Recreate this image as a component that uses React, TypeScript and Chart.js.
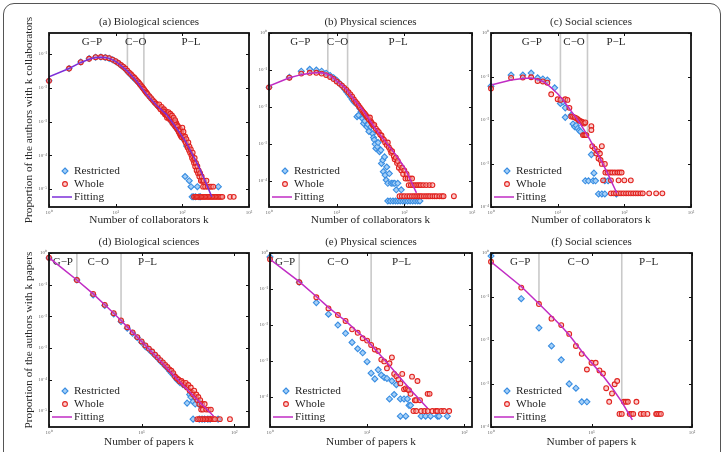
import React, { useEffect, useRef } from 'react';
import { Chart, registerables } from 'chart.js';

Chart.register(...registerables);

type Pt = [number, number];

const FONT = "'Liberation Serif', 'Times New Roman', Times, serif";

// ---------------- DATA ----------------
const TITLES = [
  '(a) Biological sciences', '(b) Physical sciences', '(c) Social sciences',
  '(d) Biological sciences', '(e) Physical sciences', '(f) Social sciences',
];
const X_TITLE_COLLAB = 'Number of collaborators k';
const X_TITLE_PAPERS = 'Number of papers k';
const Y_TITLE_COLLAB = 'Proportion of the authors with k collaborators';
const Y_TITLE_PAPERS = 'Proportion of the authors with k papers';
const REGION_NAMES = ['G\u2212P', 'C\u2212O', 'P\u2212L'];
const LEGEND_NAMES = ['Restricted', 'Whole', 'Fitting'];

// axis ranges (log10 exponents)
const A_X_EXP: Pt = [0, 3];
const A_Y_EXP: Pt = [-5.53, -0.38];
const B_X_EXP: Pt = [0, 3];
const B_Y_EXP: Pt = [-4.7, 0];
const C_X_EXP: Pt = [0, 3];
const C_Y_EXP: Pt = [-4, 0];
const D_X_EXP: Pt = [0, 2.16];
const D_Y_EXP: Pt = [-5.5, 0];
const E_X_EXP: Pt = [0, 2.08];
const E_Y_EXP: Pt = [-4.83, 0];
const F_X_EXP: Pt = [0, 2];
const F_Y_EXP: Pt = [-4, 0];

// region boundaries (k) and region label positions (k)
const A_BOUNDS = [15, 26.5];
const A_REGION_K = [4.4, 20, 135];
const B_BOUNDS = [7.4, 14.5];
const B_REGION_K = [2.9, 10.3, 81];
const C_BOUNDS = [11, 28];
const C_REGION_K = [4.1, 17.6, 75];
const D_BOUNDS = [2, 6];
const D_REGION_K = [1.41, 3.4, 11.6];
const E_BOUNDS = [2, 11];
const E_REGION_K = [1.43, 5.0, 22.6];
const F_BOUNDS = [3, 20];
const F_REGION_K = [1.95, 7.4, 37];

// (a) Biological sciences, collaborators
const A_RESTRICTED: Pt[] = [
  [1, 0.016], [2, 0.037], [3, 0.058], [4, 0.073], [5, 0.080], [6, 0.081], [7, 0.079], [8, 0.074], [9, 0.067], [10, 0.060],
  [11, 0.053], [12, 0.046], [13, 0.041], [14, 0.036], [15, 0.031], [16, 0.027], [17, 0.024], [18, 0.021], [19, 0.019], [20, 0.017],
  [22, 0.014], [24, 0.0114], [26, 0.0093], [28, 0.0077], [30, 0.0064], [33, 0.0051], [36, 0.0042], [40, 0.0033], [44, 0.0027], [48, 0.0023],
  [52, 0.0019], [56, 0.0016], [60, 0.0014], [65, 0.0012], [70, 0.00095], [75, 0.0008], [80, 0.00066], [86, 0.00055], [92, 0.00045], [98, 0.00037],
  [104, 0.0003], [110, 0.0000236], [116, 0.00019], [127, 0.0000177], [135, 0.0000118], [140, 0.0000059], [148, 0.0000059], [158, 0.0000059],
  [168, 0.0000118], [178, 0.0000059], [186, 0.0000059], [347, 0.0000118],
];
const A_WHOLE: Pt[] = [
  [1, 0.016], [2, 0.037], [3, 0.057], [4, 0.072], [5, 0.080], [6, 0.081], [7, 0.079], [8, 0.075], [9, 0.068], [10, 0.061],
  [11, 0.054], [12, 0.047], [13, 0.042], [14, 0.037], [15, 0.032], [16, 0.028], [17, 0.025], [18, 0.022], [19, 0.020], [20, 0.018],
  [21, 0.016], [22, 0.0145], [23, 0.013], [24, 0.0117], [25, 0.0105], [26, 0.0095], [27, 0.0086], [28, 0.0078], [29, 0.0071], [30, 0.0065],
  [32, 0.0056], [34, 0.0049], [36, 0.0043], [38, 0.0038], [40, 0.0034], [42, 0.0031], [44, 0.0028], [46, 0.0026], [48, 0.0024], [50, 0.0022],
  [45, 0.0032], [47, 0.0023], [49, 0.0027], [51, 0.0019], [53, 0.0023], [55, 0.0016], [57, 0.002], [59, 0.0013], [61, 0.0017], [63, 0.0012],
  [65, 0.0015], [67, 0.0011], [69, 0.0013], [71, 0.0009], [73, 0.0011], [75, 0.0008], [77, 0.001], [79, 0.0007], [81, 0.0009], [83, 0.00062],
  [84, 0.00078], [86, 0.00055], [87, 0.0007], [89, 0.00048], [91, 0.00062], [92, 0.00042], [94, 0.0005], [95, 0.00037], [97, 0.00052], [98, 0.00034],
  [52, 0.002], [54, 0.0019], [56, 0.0017], [58, 0.0016], [60, 0.0015], [62, 0.0019], [64, 0.0013], [66, 0.0017], [68, 0.0012], [70, 0.0015],
  [72, 0.001], [74, 0.0013], [76, 0.00092], [78, 0.0011], [80, 0.00078], [82, 0.00066], [85, 0.00072], [88, 0.00058], [90, 0.0005], [93, 0.00055],
  [96, 0.00044], [100, 0.00066], [102, 0.00038], [104, 0.0005], [106, 0.00033], [108, 0.00028], [110, 0.00036], [112, 0.00024], [115, 0.0003], [118, 0.0002],
  [120, 0.00017], [123, 0.00024], [126, 0.00014], [128, 0.00018], [131, 0.00012], [134, 0.00015], [137, 0.0001], [140, 0.000083], [143, 0.00012], [146, 0.000071],
  [150, 0.000059], [153, 0.000083], [156, 0.000047], [160, 0.000059], [164, 0.0000354], [168, 0.0000472], [172, 0.0000295], [176, 0.0000354], [180, 0.0000236], [185, 0.0000295],
  [190, 0.0000177], [195, 0.0000236], [200, 0.0000177], [205, 0.0000118], [210, 0.0000177], [220, 0.0000118], [230, 0.0000177], [240, 0.0000118], [255, 0.0000118], [270, 0.0000118], [290, 0.0000118],
  [150, 0.0000059], [158, 0.0000059], [165, 0.0000059], [172, 0.0000059], [180, 0.0000059], [188, 0.0000059], [196, 0.0000059], [205, 0.0000059],
  [214, 0.0000059], [224, 0.0000059], [235, 0.0000059], [246, 0.0000059], [258, 0.0000059], [270, 0.0000059], [283, 0.0000059], [297, 0.0000059],
  [312, 0.0000059], [328, 0.0000059], [345, 0.0000059], [362, 0.0000059], [380, 0.0000059], [398, 0.0000059], [520, 0.0000059], [590, 0.0000059],
];
const A_FIT: Pt[] = [
  [1, 0.021], [2, 0.037], [3, 0.056], [4, 0.070], [5, 0.078], [6, 0.080], [7, 0.078], [8, 0.074], [10, 0.060], [12, 0.046],
  [15, 0.031], [20, 0.017], [29, 0.0064], [40, 0.0032], [58, 0.0016], [80, 0.00068], [116, 0.00023], [150, 0.000085], [184, 0.000039],
  [230, 0.000014], [277, 0.0000059],
];

// (b) Physical sciences, collaborators
const B_RESTRICTED: Pt[] = [
  [1, 0.034], [2, 0.064], [3, 0.093], [4, 0.105], [5, 0.100], [6, 0.093], [7, 0.082], [8, 0.071], [9, 0.062], [10, 0.053],
  [11, 0.044], [12, 0.037], [13, 0.031], [14, 0.026], [15, 0.022], [16, 0.019], [17, 0.016], [18, 0.014], [19, 0.0126], [20, 0.0055],
  [21, 0.006], [22, 0.0092], [23, 0.0075], [24, 0.0049], [25, 0.0036], [26, 0.0042], [27, 0.0055], [28, 0.0029], [29, 0.0034], [30, 0.0022],
  [32, 0.0029], [34, 0.0019], [35, 0.0015], [36, 0.0013], [37, 0.001], [38, 0.00076], [40, 0.00085], [41, 0.0011], [43, 0.00062], [45, 0.00069],
  [46, 0.0003], [48, 0.00037], [49, 0.00018], [51, 0.00045], [52, 0.000145], [54, 0.000107], [55, 0.00024], [57, 0.000087], [60, 0.00016], [64, 0.000087],
  [68, 0.000087], [72, 0.000087], [76, 0.000058], [80, 0.000087], [90, 0.000058],
  [57, 0.000029], [62, 0.000029], [68, 0.000029], [74, 0.000029], [80, 0.000029], [87, 0.000029], [95, 0.000029], [103, 0.000029],
  [112, 0.000029], [122, 0.000029], [133, 0.000029], [145, 0.000029], [158, 0.000029], [170, 0.000029],
];
const B_WHOLE: Pt[] = [
  [1, 0.034], [2, 0.062], [3, 0.080], [4, 0.084], [5, 0.084], [6, 0.080], [7, 0.073], [8, 0.065], [9, 0.057], [10, 0.049],
  [11, 0.043], [12, 0.038], [13, 0.033], [14, 0.029], [15, 0.025], [16, 0.022], [17, 0.019], [18, 0.016], [19, 0.014], [20, 0.0125],
  [21, 0.011], [22, 0.0098], [23, 0.0088], [24, 0.0079], [25, 0.0071], [26, 0.0066], [27, 0.006], [28, 0.0054], [29, 0.0051], [30, 0.0046],
  [31, 0.0052], [32, 0.0041], [33, 0.0037], [34, 0.0034], [35, 0.0031], [36, 0.0033], [38, 0.0026], [40, 0.0023], [42, 0.0021], [44, 0.0018],
  [46, 0.0017], [48, 0.0014], [50, 0.0013], [52, 0.0011], [55, 0.00095], [57, 0.0011], [59, 0.00082], [62, 0.0007], [64, 0.00058], [66, 0.00064],
  [70, 0.00047], [72, 0.00039], [75, 0.00043], [78, 0.00031], [80, 0.00035], [83, 0.00023], [86, 0.00027], [90, 0.000195], [93, 0.00023], [96, 0.000156],
  [100, 0.000195], [104, 0.000117], [108, 0.000156], [112, 0.000117], [116, 0.000078], [120, 0.000117], [125, 0.000078], [130, 0.000117], [135, 0.000078], [145, 0.000078],
  [155, 0.000078], [165, 0.000078], [175, 0.000078], [190, 0.000078], [210, 0.000078], [235, 0.000078], [260, 0.000078],
  [85, 0.000039], [92, 0.000039], [100, 0.000039], [110, 0.000039], [120, 0.000039], [130, 0.000039], [140, 0.000039], [150, 0.000039],
  [160, 0.000039], [170, 0.000039], [180, 0.000039], [195, 0.000039], [210, 0.000039], [225, 0.000039], [240, 0.000039], [260, 0.000039],
  [280, 0.000039], [300, 0.000039], [330, 0.000039], [360, 0.000039], [380, 0.000039], [540, 0.000039],
];
const B_FIT: Pt[] = [
  [1, 0.037], [2, 0.062], [3, 0.075], [4, 0.082], [5, 0.085], [6, 0.084], [7, 0.079], [8, 0.072], [10, 0.051], [12, 0.039],
  [14, 0.030], [18, 0.016], [25, 0.0078], [36, 0.0029], [50, 0.0013], [72, 0.00056], [100, 0.00024], [151, 0.000048],
];

// (c) Social sciences, collaborators
const C_RESTRICTED: Pt[] = [
  [1, 0.060], [2, 0.108], [3, 0.108], [4, 0.12], [5, 0.093], [6, 0.088], [7, 0.083], [9, 0.055], [11, 0.024], [12, 0.026],
  [13, 0.019], [13, 0.0115], [16, 0.013], [17, 0.0081], [18, 0.007], [19, 0.0075], [20, 0.0064], [21, 0.0058], [22, 0.0054], [32, 0.0016],
  [35, 0.0006], [26, 0.0004], [29, 0.0004], [34, 0.0004], [37, 0.0004], [51, 0.0004], [57, 0.0004],
  [41, 0.0002], [46, 0.0002], [51, 0.0002], [76, 0.0002],
];
const C_WHOLE: Pt[] = [
  [1, 0.053], [2, 0.093], [3, 0.095], [4, 0.096], [5, 0.079], [6, 0.077], [7, 0.072], [8, 0.039], [10, 0.030], [11, 0.029],
  [13, 0.030], [14, 0.029], [15, 0.019], [16, 0.012], [17, 0.0118], [18, 0.0115], [19, 0.011], [20, 0.0104], [21, 0.0098], [22, 0.0094],
  [23, 0.0091], [24, 0.0088], [25, 0.0083], [26, 0.0088], [24, 0.0045], [25, 0.0045], [26, 0.0045], [27, 0.0045], [32, 0.0072], [32, 0.0059],
  [33, 0.0025], [36, 0.0022], [38, 0.0017], [40, 0.0019], [43, 0.0017], [46, 0.0025], [41, 0.0013], [44, 0.0012], [46, 0.00098], [51, 0.00098],
  [52, 0.00062], [56, 0.00062], [61, 0.00062], [66, 0.00062], [72, 0.00062], [79, 0.00062], [85, 0.00062], [91, 0.00062],
  [48, 0.00041], [63, 0.00041], [82, 0.00041], [100, 0.00041], [125, 0.00041],
  [63, 0.000206], [69, 0.000206], [75, 0.000206], [82, 0.000206], [89, 0.000206], [97, 0.000206], [106, 0.000206], [115, 0.000206],
  [125, 0.000206], [136, 0.000206], [148, 0.000206], [160, 0.000206], [175, 0.000206], [189, 0.000206], [236, 0.000206], [300, 0.000206], [372, 0.000206],
];
const C_FIT: Pt[] = [
  [1, 0.064], [2, 0.083], [3, 0.090], [4, 0.092], [5, 0.086], [6, 0.077], [7, 0.066], [8, 0.055], [10, 0.040], [12, 0.029],
  [14, 0.021], [17, 0.014], [20, 0.010], [24, 0.0065], [30, 0.0037], [38, 0.0019], [50, 0.00085], [60, 0.00048], [77, 0.00021],
];

// (d) Biological sciences, papers
const D_RESTRICTED: Pt[] = [
  [1, 0.70], [2, 0.14], [3, 0.047], [4, 0.022], [5, 0.0118], [6, 0.0068], [7, 0.0042], [8, 0.0029], [9, 0.0021], [10, 0.0015],
  [11, 0.0011], [12, 0.0009], [13, 0.00072], [14, 0.00058], [15, 0.00047], [16, 0.00038], [17, 0.00032], [18, 0.00027], [19, 0.00023], [20, 0.00019],
  [21, 0.00016], [22, 0.00014], [23, 0.00012], [24, 0.0001], [25, 0.00009], [26, 0.00008], [28, 0.000068], [30, 0.00006], [31, 0.000018], [33, 0.0000336],
  [34, 0.000028], [36, 0.00002], [38, 0.0000168], [40, 0.0000224], [43, 0.000015], [44, 0.0000168],
  [36, 0.0000056], [42, 0.0000056], [45, 0.0000056], [48, 0.0000056], [52, 0.0000056], [55, 0.0000056], [67, 0.0000056],
];
const D_WHOLE: Pt[] = [
  [1, 0.71], [2, 0.14], [3, 0.051], [4, 0.023], [5, 0.0125], [6, 0.0074], [7, 0.0045], [8, 0.0031], [9, 0.0022], [10, 0.0016],
  [11, 0.0012], [12, 0.00095], [13, 0.00077], [14, 0.00061], [15, 0.0005], [16, 0.00041], [17, 0.00035], [18, 0.00029], [19, 0.00025], [20, 0.00021],
  [21, 0.00019], [22, 0.00016], [23, 0.000125], [24, 0.00011], [25, 0.0001], [26, 0.000087], [27, 0.00009], [28, 0.000078], [29, 0.000067], [30, 0.000078],
  [31, 0.000056], [32, 0.000067], [33, 0.0000448], [34, 0.000056], [35, 0.0000392], [36, 0.0000336], [37, 0.0000448], [38, 0.000028], [39, 0.0000336], [40, 0.0000224],
  [41, 0.000028], [42, 0.0000168], [43, 0.0000224], [44, 0.0000112], [45, 0.0000168], [46, 0.0000112], [48, 0.0000168], [50, 0.0000112], [53, 0.0000112], [56, 0.0000112],
  [40, 0.0000056], [42, 0.0000056], [44, 0.0000056], [46, 0.0000056], [48, 0.0000056], [50, 0.0000056], [52, 0.0000056],
  [54, 0.0000056], [56, 0.0000056], [58, 0.0000056], [60, 0.0000056], [62, 0.0000056], [70, 0.0000056], [90, 0.0000056],
];
const D_FIT: Pt[] = [
  [1, 0.71], [2, 0.14], [3, 0.051], [4, 0.023], [5, 0.0125], [6, 0.0074], [8, 0.0031], [10, 0.0016], [15, 0.00047], [20, 0.00019],
  [30, 0.000054], [40, 0.000023], [50, 0.000012], [60, 0.0000069],
];

// (e) Physical sciences, papers
const E_RESTRICTED: Pt[] = [
  [1, 0.78], [2, 0.154], [3, 0.042], [4, 0.020], [5, 0.010], [6, 0.0059], [7, 0.0033], [8, 0.0022], [9, 0.0017], [10, 0.00096],
  [11, 0.00046], [12, 0.00032], [13, 0.00057], [14, 0.00041], [15, 0.00035], [16, 0.00033], [17, 0.000089], [18, 0.00028], [19, 0.000118], [20, 0.00022],
  [22, 0.000089], [24, 0.000089], [26, 0.000089], [27, 0.000059], [28, 0.000059],
  [22, 0.0000295], [25, 0.0000295], [36, 0.0000295], [40, 0.0000295], [45, 0.0000295], [53, 0.0000295], [55, 0.0000295], [67, 0.0000295],
];
const E_WHOLE: Pt[] = [
  [1, 0.67], [2, 0.154], [3, 0.059], [4, 0.029], [5, 0.019], [6, 0.013], [7, 0.0076], [8, 0.0061], [9, 0.0043], [10, 0.0037],
  [11, 0.0028], [12, 0.0021], [13, 0.0019], [14, 0.0011], [15, 0.00098], [16, 0.00063], [17, 0.00087], [18, 0.00126], [19, 0.00044], [20, 0.00038],
  [21, 0.00031], [22, 0.00024], [23, 0.00044], [24, 0.000164], [25, 0.000174], [26, 0.000164], [27, 0.000156], [28, 0.000123], [29, 0.00037], [31, 0.000082],
  [32, 0.000082], [33, 0.00028], [35, 0.000082], [42, 0.000123], [44, 0.000123],
  [30, 0.000041], [32, 0.000041], [36, 0.000041], [39, 0.000041], [42, 0.000041], [47, 0.000041], [51, 0.000041], [53, 0.000041],
  [58, 0.000041], [62, 0.000041], [70, 0.000041],
];
const E_FIT: Pt[] = [
  [1, 0.67], [2, 0.16], [3, 0.062], [4, 0.031], [5, 0.019], [6, 0.013], [8, 0.0064], [10, 0.0038], [15, 0.0011], [20, 0.00045],
  [30, 0.00013], [42, 0.000049],
];

// (f) Social sciences, papers
const F_RESTRICTED: Pt[] = [
  [1, 0.85], [2, 0.089], [3, 0.019], [4, 0.0073], [5, 0.0035], [6, 0.00098], [7, 0.00078], [8, 0.00038], [9, 0.00038],
];
const F_WHOLE: Pt[] = [
  [1, 0.63], [2, 0.16], [3, 0.067], [4, 0.031], [5, 0.022], [6, 0.0138], [7, 0.0073], [8, 0.0048], [9, 0.0021], [10, 0.003],
  [11, 0.003], [12, 0.002], [13, 0.0017], [14, 0.00078], [15, 0.00038], [16, 0.00059], [17, 0.00096], [18, 0.00114], [19, 0.0002], [20, 0.0002],
  [21, 0.00038], [22, 0.00038], [23, 0.00038], [24, 0.0002], [25, 0.0002], [26, 0.0002], [28, 0.00038], [31, 0.0002], [33, 0.0002], [36, 0.0002],
  [44, 0.0002], [45, 0.0002], [47, 0.0002], [49, 0.0002],
];
const F_FIT: Pt[] = [
  [1, 0.63], [2, 0.17], [3, 0.068], [4, 0.035], [5, 0.021], [6, 0.013], [8, 0.0055], [10, 0.003], [13, 0.0015], [16, 0.0008],
  [20, 0.00038], [25.5, 0.000145],
];

// ---------------- STYLE / LAYOUT ----------------
const FIT_PURPLE = '#7d2fd8';
const FIT_MAGENTA = '#c02cc4';
const BLUE_EDGE = '#3a8ee2';
const BLUE_FILL = '#a6d0f7';
const RED_EDGE = '#e0231f';
const RED_FILL = 'rgba(248,170,170,0.55)';
const TEXT_COLOR = '#262626';
const BOUND_COLOR = '#c9c9c9';

const TITLE_PAD_TOP = 4;
const TITLE_PAD_BOTTOM = 3.8;
const TITLE_H = TITLE_PAD_TOP + 11 * 1.2 + TITLE_PAD_BOTTOM; // 21
const RIGHT_PAD = 8;

const LAYOUT = [
  { l: 49, t: 33, r: 249, b: 207, cl: 22, xh: 20 },
  { l: 269, t: 33, r: 472, b: 207, cl: 251, xh: 20 },
  { l: 491, t: 33, r: 691, b: 207, cl: 473, xh: 20 },
  { l: 49, t: 253, r: 249, b: 427, cl: 22, xh: 22 },
  { l: 270, t: 253, r: 472, b: 427, cl: 252, xh: 22 },
  { l: 491, t: 253, r: 692, b: 427, cl: 473, xh: 22 },
];

interface PanelSpec {
  title: string; xTitle: string; yTitle?: string;
  restricted: Pt[]; whole: Pt[]; fit: Pt[];
  bounds: number[]; regionK: number[]; xExp: Pt; yExp: Pt; fitColor: string;
}

const PANELS: PanelSpec[] = [
  { title: TITLES[0], xTitle: X_TITLE_COLLAB, yTitle: Y_TITLE_COLLAB, restricted: A_RESTRICTED, whole: A_WHOLE, fit: A_FIT, bounds: A_BOUNDS, regionK: A_REGION_K, xExp: A_X_EXP, yExp: A_Y_EXP, fitColor: FIT_PURPLE },
  { title: TITLES[1], xTitle: X_TITLE_COLLAB, restricted: B_RESTRICTED, whole: B_WHOLE, fit: B_FIT, bounds: B_BOUNDS, regionK: B_REGION_K, xExp: B_X_EXP, yExp: B_Y_EXP, fitColor: FIT_MAGENTA },
  { title: TITLES[2], xTitle: X_TITLE_COLLAB, restricted: C_RESTRICTED, whole: C_WHOLE, fit: C_FIT, bounds: C_BOUNDS, regionK: C_REGION_K, xExp: C_X_EXP, yExp: C_Y_EXP, fitColor: FIT_MAGENTA },
  { title: TITLES[3], xTitle: X_TITLE_PAPERS, yTitle: Y_TITLE_PAPERS, restricted: D_RESTRICTED, whole: D_WHOLE, fit: D_FIT, bounds: D_BOUNDS, regionK: D_REGION_K, xExp: D_X_EXP, yExp: D_Y_EXP, fitColor: FIT_MAGENTA },
  { title: TITLES[4], xTitle: X_TITLE_PAPERS, restricted: E_RESTRICTED, whole: E_WHOLE, fit: E_FIT, bounds: E_BOUNDS, regionK: E_REGION_K, xExp: E_X_EXP, yExp: E_Y_EXP, fitColor: FIT_MAGENTA },
  { title: TITLES[5], xTitle: X_TITLE_PAPERS, restricted: F_RESTRICTED, whole: F_WHOLE, fit: F_FIT, bounds: F_BOUNDS, regionK: F_REGION_K, xExp: F_X_EXP, yExp: F_Y_EXP, fitColor: FIT_MAGENTA },
];

// ---------------- HELPERS ----------------
const SUP: Record<string, string> = {
  '-': '\u207B', '0': '\u2070', '1': '\u00B9', '2': '\u00B2', '3': '\u00B3', '4': '\u2074',
  '5': '\u2075', '6': '\u2076', '7': '\u2077', '8': '\u2078', '9': '\u2079',
};
const fmtPow = (v: number) => '10' + String(Math.round(Math.log10(v))).split('').map((c) => SUP[c] || c).join('');
const decades = (e: Pt) => {
  const out: number[] = [];
  for (let i = Math.ceil(e[0] - 1e-6); i <= Math.floor(e[1] + 1e-6); i++) out.push(i);
  return out;
};
const fitAt = (fit: Pt[], k: number) => {
  const lk = Math.log10(k);
  for (let i = 0; i < fit.length - 1; i++) {
    const a = Math.log10(fit[i][0]);
    const b = Math.log10(fit[i + 1][0]);
    if (lk >= a && lk <= b) {
      const t = (lk - a) / (b - a);
      return Math.pow(10, Math.log10(fit[i][1]) * (1 - t) + Math.log10(fit[i + 1][1]) * t);
    }
  }
  return fit[fit.length - 1][1];
};
const toXY = (pts: Pt[]) => pts.map(([x, y]) => ({ x, y }));

function drawDiamond(ctx: CanvasRenderingContext2D, x: number, y: number, r: number) {
  ctx.beginPath();
  ctx.moveTo(x, y - r); ctx.lineTo(x + r, y); ctx.lineTo(x, y + r); ctx.lineTo(x - r, y);
  ctx.closePath();
  ctx.fillStyle = BLUE_FILL; ctx.fill();
  ctx.strokeStyle = BLUE_EDGE; ctx.lineWidth = 1.1; ctx.stroke();
}
function drawCircle(ctx: CanvasRenderingContext2D, x: number, y: number, r: number) {
  ctx.beginPath();
  ctx.arc(x, y, r, 0, Math.PI * 2);
  ctx.fillStyle = RED_FILL; ctx.fill();
  ctx.strokeStyle = RED_EDGE; ctx.lineWidth = 1.1; ctx.stroke();
}

function makeDeco(p: PanelSpec) {
  return {
    id: 'deco',
    beforeDatasetsDraw(chart: any) {
      const { ctx, chartArea: ca, scales } = chart;
      const sx = scales.x, sy = scales.y;
      ctx.save();
      ctx.strokeStyle = BOUND_COLOR;
      ctx.lineWidth = 1.6;
      p.bounds.forEach((k) => {
        const px = sx.getPixelForValue(k);
        const py = sy.getPixelForValue(fitAt(p.fit, k));
        ctx.beginPath(); ctx.moveTo(px, ca.top); ctx.lineTo(px, py); ctx.stroke();
      });
      ctx.fillStyle = TEXT_COLOR;
      ctx.font = `11px ${FONT}`;
      ctx.textAlign = 'center';
      ctx.textBaseline = 'middle';
      p.regionK.forEach((k, i) => ctx.fillText(REGION_NAMES[i], sx.getPixelForValue(k), ca.top + 9.5));
      ctx.restore();
    },
    afterDatasetsDraw(chart: any) {
      const { ctx, chartArea: ca, scales } = chart;
      const sx = scales.x, sy = scales.y;
      ctx.save();
      ctx.strokeStyle = '#111';
      ctx.lineWidth = 1;
      decades(p.xExp).forEach((e) => {
        const px = Math.round(sx.getPixelForValue(Math.pow(10, e))) + 0.5;
        ctx.beginPath();
        ctx.moveTo(px, ca.bottom); ctx.lineTo(px, ca.bottom - 3);
        ctx.moveTo(px, ca.top); ctx.lineTo(px, ca.top + 3);
        ctx.stroke();
      });
      decades(p.yExp).forEach((e) => {
        const py = Math.round(sy.getPixelForValue(Math.pow(10, e))) + 0.5;
        ctx.beginPath();
        ctx.moveTo(ca.left, py); ctx.lineTo(ca.left + 3, py);
        ctx.moveTo(ca.right, py); ctx.lineTo(ca.right - 3, py);
        ctx.stroke();
      });
      ctx.lineWidth = 1.8;
      ctx.strokeStyle = '#111';
      ctx.strokeRect(ca.left, ca.top, ca.right - ca.left, ca.bottom - ca.top);
      const lx = ca.left;
      const rows = [ca.bottom - 36, ca.bottom - 23, ca.bottom - 10];
      drawDiamond(ctx, lx + 16, rows[0], 3);
      drawCircle(ctx, lx + 16, rows[1], 2.4);
      ctx.strokeStyle = p.fitColor;
      ctx.lineWidth = 1.5;
      ctx.beginPath(); ctx.moveTo(lx + 3, rows[2]); ctx.lineTo(lx + 23, rows[2]); ctx.stroke();
      ctx.fillStyle = TEXT_COLOR;
      ctx.font = `11.3px ${FONT}`;
      ctx.textAlign = 'left';
      ctx.textBaseline = 'middle';
      LEGEND_NAMES.forEach((n, i) => ctx.fillText(n, lx + 25, rows[i] + 0.5));
      ctx.restore();
    },
  };
}

function Panel({ spec, lay }: { spec: PanelSpec; lay: typeof LAYOUT[number] }) {
  const ref = useRef<HTMLCanvasElement | null>(null);
  const top = Math.round(lay.t - TITLE_H);
  const left = lay.cl;
  const w = lay.r + RIGHT_PAD - left;
  const h = lay.b + lay.xh - top;

  useEffect(() => {
    const canvas = ref.current;
    if (!canvas) return;
    const yW = lay.l - lay.cl;
    const chart = new Chart(canvas, {
      type: 'scatter',
      data: {
        datasets: [
          {
            label: 'Fitting', data: toXY(spec.fit), showLine: true, pointRadius: 0,
            borderColor: spec.fitColor, borderWidth: 1.5, fill: false, order: 0,
          } as any,
          {
            label: 'Whole', data: toXY(spec.whole), pointStyle: 'circle', pointRadius: 2.4,
            borderWidth: 1.1, borderColor: RED_EDGE, backgroundColor: RED_FILL, order: 1, clip: false,
          } as any,
          {
            label: 'Restricted', data: toXY(spec.restricted), pointStyle: 'rectRot', pointRadius: 3,
            borderWidth: 1.1, borderColor: BLUE_EDGE, backgroundColor: BLUE_FILL, order: 2, clip: false,
          } as any,
        ],
      },
      options: {
        responsive: false,
        maintainAspectRatio: false,
        animation: false,
        events: [],
        layout: { autoPadding: false, padding: { left: 0, right: RIGHT_PAD, top: 0, bottom: 0 } } as any,
        plugins: {
          legend: { display: false },
          tooltip: { enabled: false },
          title: {
            display: true, text: spec.title, fullSize: false, color: TEXT_COLOR,
            font: { family: FONT, size: 11, weight: 'normal' as any },
            padding: { top: TITLE_PAD_TOP, bottom: TITLE_PAD_BOTTOM },
          },
        },
        scales: {
          x: {
            type: 'logarithmic', position: 'bottom', bounds: 'data',
            min: Math.pow(10, spec.xExp[0]), max: Math.pow(10, spec.xExp[1]),
            grid: { display: false, drawTicks: false },
            border: { display: false },
            ticks: {
              autoSkip: false, maxRotation: 0, minRotation: 0, padding: 3, color: '#666',
              font: { family: FONT, size: 5 }, callback: (v: any) => fmtPow(Number(v)),
            },
            afterBuildTicks: (s: any) => { s.ticks = decades(spec.xExp).map((e) => ({ value: Math.pow(10, e) })); },
            afterFit: (s: any) => { s.height = lay.xh; },
            title: {
              display: true, text: spec.xTitle, color: TEXT_COLOR,
              font: { family: FONT, size: 11.3 }, padding: { top: 0, bottom: 0 },
            },
          } as any,
          y: {
            type: 'logarithmic', position: 'left', bounds: 'data',
            min: Math.pow(10, spec.yExp[0]), max: Math.pow(10, spec.yExp[1]),
            grid: { display: false, drawTicks: false },
            border: { display: false },
            ticks: {
              autoSkip: false, padding: 2, color: '#666',
              font: { family: FONT, size: 5 }, callback: (v: any) => fmtPow(Number(v)),
            },
            afterBuildTicks: (s: any) => { s.ticks = decades(spec.yExp).map((e) => ({ value: Math.pow(10, e) })); },
            afterFit: (s: any) => { s.width = yW; },
            title: {
              display: !!spec.yTitle, text: spec.yTitle || '', color: TEXT_COLOR,
              font: { family: FONT, size: 11.3 }, padding: { top: 0, bottom: 0 },
            },
          } as any,
        },
      },
      plugins: [makeDeco(spec)],
    });
    return () => chart.destroy();
  }, []);

  return (
    <canvas
      ref={ref}
      width={w}
      height={h}
      style={{ position: 'absolute', left, top, width: w, height: h }}
    />
  );
}

export default function App() {
  return (
    <div style={{ position: 'fixed', left: 0, top: 0, width: 723, height: 452, background: '#fff', overflow: 'hidden' }}>
      <div
        style={{
          position: 'absolute', left: 3, top: 3, width: 717.5, height: 470, boxSizing: 'border-box',
          border: '1.5px solid #555', borderRadius: 11,
        }}
      />
      {PANELS.map((p, i) => (
        <Panel key={i} spec={p} lay={LAYOUT[i]} />
      ))}
    </div>
  );
}
